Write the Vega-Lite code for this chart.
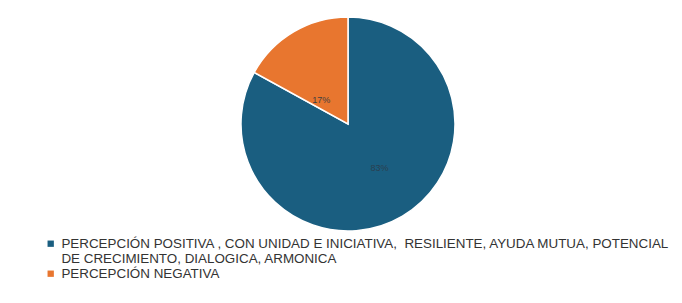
{
  "$schema": "https://vega.github.io/schema/vega-lite/v6.json",
  "width": 696,
  "height": 248,
  "autosize": "pad",
  "padding": 0,
  "background": "white",
  "config": {"view": {"stroke": null}, "font": "Liberation Sans"},
  "data": {"values": [
    {"categoria": "PERCEPCIÓN POSITIVA , CON UNIDAD E INICIATIVA,  RESILIENTE, AYUDA MUTUA, POTENCIAL DE CRECIMIENTO, DIALOGICA, ARMONICA", "orden": 1, "porcentaje": 83, "etiqueta": "83%"},
    {"categoria": "PERCEPCIÓN NEGATIVA", "orden": 2, "porcentaje": 17, "etiqueta": "17%"}
  ]},
  "encoding": {
    "theta": {"field": "porcentaje", "type": "quantitative", "stack": true},
    "order": {"field": "orden", "type": "quantitative"}
  },
  "layer": [
    {
      "mark": {"type": "arc", "outerRadius": 107, "stroke": "white", "strokeWidth": 1.5},
      "encoding": {
        "color": {
          "field": "categoria", "type": "nominal",
          "scale": {"domain": ["PERCEPCIÓN POSITIVA , CON UNIDAD E INICIATIVA,  RESILIENTE, AYUDA MUTUA, POTENCIAL DE CRECIMIENTO, DIALOGICA, ARMONICA", "PERCEPCIÓN NEGATIVA"], "range": ["#1a5e80", "#e8762f"]},
          "legend": {
            "orient": "none", "legendX": 44, "legendY": 237, "title": null,
            "symbolType": "square", "symbolSize": 40, "symbolStrokeWidth": 0,
            "labelFont": "Liberation Sans", "labelFontSize": 13.4, "labelColor": "#333333", "labelLimit": 700,
            "labelLineHeight": 15, "rowPadding": 0, "padding": 0, "labelOffset": 4,
            "labelExpr": "datum.label == 'PERCEPCIÓN NEGATIVA' ? datum.label : ['PERCEPCIÓN POSITIVA , CON UNIDAD E INICIATIVA,\u00a0 RESILIENTE, AYUDA MUTUA, POTENCIAL', 'DE CRECIMIENTO, DIALOGICA, ARMONICA']"
          }
        }
      }
    },
    {
      "mark": {"type": "text", "radius": 36, "thetaOffset": -0.3, "fontSize": 9, "color": "#404040"},
      "encoding": {"text": {"condition": {"test": "datum.orden == 2", "field": "etiqueta"}, "value": ""}}
    },
    {
      "mark": {"type": "text", "radius": 54, "thetaOffset": -0.09, "fontSize": 9, "color": "#2a3f4f"},
      "encoding": {"text": {"condition": {"test": "datum.orden == 1", "field": "etiqueta"}, "value": ""}}
    }
  ]
}
